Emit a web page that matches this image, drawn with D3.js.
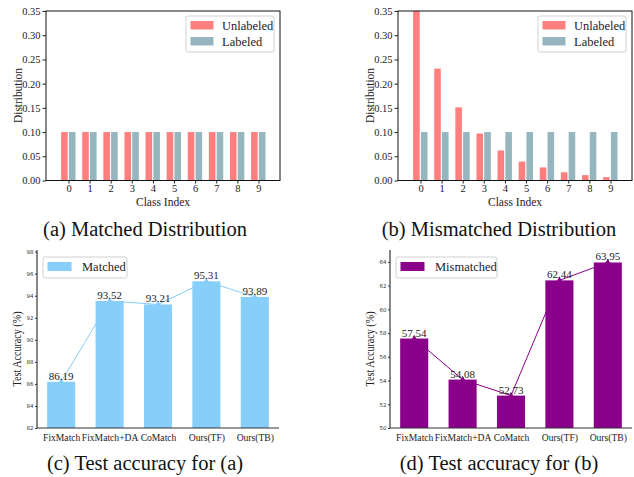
<!DOCTYPE html>
<html><head><meta charset="utf-8">
<script src="https://cdn.jsdelivr.net/npm/d3@7"></script>
<style>body{margin:0;background:#fff}svg{display:block}</style>
</head><body>
<svg id="c" width="634" height="477"></svg>
<script>
// ---------- data ----------
const classes = [0,1,2,3,4,5,6,7,8,9];
const matchedUnlabeled = [0.1,0.1,0.1,0.1,0.1,0.1,0.1,0.1,0.1,0.1];
const matchedLabeled   = [0.1,0.1,0.1,0.1,0.1,0.1,0.1,0.1,0.1,0.1];
const mismatchedUnlabeled = [0.35,0.231,0.151,0.097,0.062,0.039,0.027,0.017,0.011,0.007];
const mismatchedLabeled   = [0.1,0.1,0.1,0.1,0.1,0.1,0.1,0.1,0.1,0.1];
const distTicks = [0,0.05,0.10,0.15,0.20,0.25,0.30,0.35];
const methods = ["FixMatch","FixMatch+DA","CoMatch","Ours(TF)","Ours(TB)"];
const accMatched = [86.19,93.52,93.21,95.31,93.89];
const accMismatched = [57.54,54.08,52.73,62.44,63.95];
const accTicksC = [82,84,86,88,90,92,94,96,98];
const accTicksD = [50,52,54,56,58,60,62,64];
const captions = ["(a) Matched Distribution","(b) Mismatched Distribution","(c) Test accuracy for (a)","(d) Test accuracy for (b)"];

const svg = d3.select("#c");
const serif = "'Liberation Serif','Times New Roman',serif";
const sans = "'DejaVu Sans',sans-serif";
const cUnl = "#ff7f7f", cLab = "#95b5bf";

function distPanel(x0, x1, unl, lab, legendX) {
  const top = 11, bottom = 180.5;
  const x = d3.scaleLinear().domain([-1.066, 10.02]).range([x0, x1]);
  const y = d3.scaleLinear().domain([0, 0.35]).range([bottom, top]);
  const g = svg.append("g");
  const w = 0.35;
  g.selectAll(".u").data(classes).join("rect")
    .attr("x", d => x(d - w)).attr("width", d => x(d) - x(d - w) - 0.8)
    .attr("y", (d,i) => y(unl[i])).attr("height", (d,i) => y(0) - y(unl[i]))
    .attr("fill", cUnl);
  g.selectAll(".l").data(classes).join("rect")
    .attr("x", d => x(d) + 0.4).attr("width", d => x(d + w) - x(d) - 0.8)
    .attr("y", (d,i) => y(lab[i])).attr("height", (d,i) => y(0) - y(lab[i]))
    .attr("fill", cLab);
  g.append("rect").attr("x", x0).attr("y", top).attr("width", x1 - x0).attr("height", bottom - top)
    .attr("fill", "none").attr("stroke", "#111").attr("stroke-width", 1);
  const ya = g.append("g").attr("transform", `translate(${x0},0)`)
    .call(d3.axisLeft(y).tickValues(distTicks).tickFormat(d3.format(".2f")).tickSize(3.5).tickPadding(2));
  const xa = g.append("g").attr("transform", `translate(0,${bottom})`)
    .call(d3.axisBottom(x).tickValues(classes).tickSize(3).tickPadding(1));
  [ya, xa].forEach(a => {
    a.select(".domain").remove();
    a.selectAll("text").attr("font-family", serif).attr("font-size", 10.5).attr("fill", "#222");
    a.selectAll("line").attr("stroke", "#222");
  });
  g.append("text").attr("x", (x0 + x1) / 2).attr("y", 206).attr("text-anchor", "middle")
    .attr("font-family", serif).attr("font-size", 11.5).attr("fill", "#222").text("Class Index");
  g.append("text").attr("transform", `translate(${x0 - 24},95.5) rotate(-90)`).attr("text-anchor", "middle")
    .attr("font-family", serif).attr("font-size", 12.5).attr("textLength", 55).attr("lengthAdjust", "spacingAndGlyphs")
    .attr("fill", "#222").text("Distribution");
  // legend
  const lg = g.append("g").attr("transform", `translate(${legendX},16)`);
  lg.append("rect").attr("width", 88).attr("height", 36).attr("rx", 2)
    .attr("fill", "#fff").attr("stroke", "#d0d0d0");
  [["Unlabeled", cUnl], ["Labeled", cLab]].forEach((e, i) => {
    lg.append("rect").attr("x", 4.5).attr("y", 5 + i * 16).attr("width", 23).attr("height", 8.5).attr("fill", e[1]);
    lg.append("text").attr("x", 36).attr("y", 13.5 + i * 16).attr("font-family", serif).attr("font-size", 12.5)
      .attr("fill", "#222").text(e[0]);
  });
}

distPanel(46, 280, matchedUnlabeled, matchedLabeled, 186);
distPanel(398, 632, mismatchedUnlabeled, mismatchedLabeled, 538);

function accPanel(x0, x1, vals, ticks, yDom, color, name, legendW) {
  const top = 250, bottom = 428;
  const x = d3.scaleLinear().domain([-0.5, 4.5]).range([x0, x1]);
  const y = d3.scaleLinear().domain(yDom).range([bottom, top]);
  const g = svg.append("g");
  const bw = 0.58;
  const idx = d3.range(methods.length);
  g.selectAll(".b").data(idx).join("rect")
    .attr("x", i => x(i - bw / 2)).attr("width", i => x(i + bw / 2) - x(i - bw / 2))
    .attr("y", i => y(vals[i])).attr("height", i => y(yDom[0]) - y(vals[i]))
    .attr("fill", color);
  g.append("path").datum(idx)
    .attr("d", d3.line().x(i => x(i)).y(i => y(vals[i])))
    .attr("fill", "none").attr("stroke", color).attr("stroke-width", 1);
  g.selectAll(".m").data(idx).join("path")
    .attr("transform", i => `translate(${x(i)},${y(vals[i]) - 0.5})`)
    .attr("d", d3.symbol(d3.symbolTriangle, 14)).attr("fill", color);
  g.selectAll(".v").data(idx).join("text")
    .attr("x", i => x(i)).attr("y", i => y(vals[i]) - 2).attr("text-anchor", "middle")
    .attr("font-family", serif).attr("font-size", 11).attr("fill", "#222")
    .text(i => vals[i].toFixed(2));
  // spines
  g.append("line").attr("x1", x0).attr("x2", x0).attr("y1", top).attr("y2", bottom).attr("stroke", "#111");
  g.append("line").attr("x1", x0).attr("x2", x1).attr("y1", bottom).attr("y2", bottom).attr("stroke", "#333");
  const ya = g.append("g").attr("transform", `translate(${x0},0)`)
    .call(d3.axisLeft(y).tickValues(ticks).tickFormat(d3.format("d")).tickSize(2).tickPadding(1.5));
  ya.select(".domain").remove();
  ya.selectAll("text").attr("font-family", sans).attr("font-size", 5.5).attr("fill", "#333");
  ya.selectAll("line").attr("stroke", "#333");
  const xa = g.append("g").attr("transform", `translate(0,${bottom})`)
    .call(d3.axisBottom(x).tickValues(idx).tickFormat(i => methods[i]).tickSize(0).tickPadding(6));
  xa.select(".domain").remove();
  xa.selectAll("text").attr("font-family", serif).attr("font-size", 9.6).attr("fill", "#222");
  g.append("text").attr("transform", `translate(${x0 - 16},349) rotate(-90)`).attr("text-anchor", "middle")
    .attr("font-family", serif).attr("font-size", 13).attr("textLength", 75).attr("lengthAdjust", "spacingAndGlyphs")
    .attr("fill", "#222").text("Test Accuracy (%)");
  const lg = g.append("g").attr("transform", `translate(${x0 + 6},257)`);
  lg.append("rect").attr("width", legendW).attr("height", 21).attr("rx", 2)
    .attr("fill", "#fff").attr("stroke", "#d0d0d0");
  lg.append("rect").attr("x", 4.5).attr("y", 5).attr("width", 24).attr("height", 9).attr("fill", color);
  lg.append("text").attr("x", 39).attr("y", 14).attr("font-family", serif).attr("font-size", 12.5)
    .attr("fill", "#222").text(name);
}

accPanel(37, 279, accMatched, accTicksC, [82, 98.15], "#87cefa", "Matched", 84);
accPanel(390, 632, accMismatched, accTicksD, [50, 65], "#8b008b", "Mismatched", 101);

// captions
[[145, 236], [499, 236], [145, 470], [499, 470]].forEach((p, i) => {
  svg.append("text").attr("x", p[0]).attr("y", p[1]).attr("text-anchor", "middle")
    .attr("font-family", serif).attr("font-size", 20.5).attr("fill", "#111").text(captions[i]);
});
</script>
</body></html>
